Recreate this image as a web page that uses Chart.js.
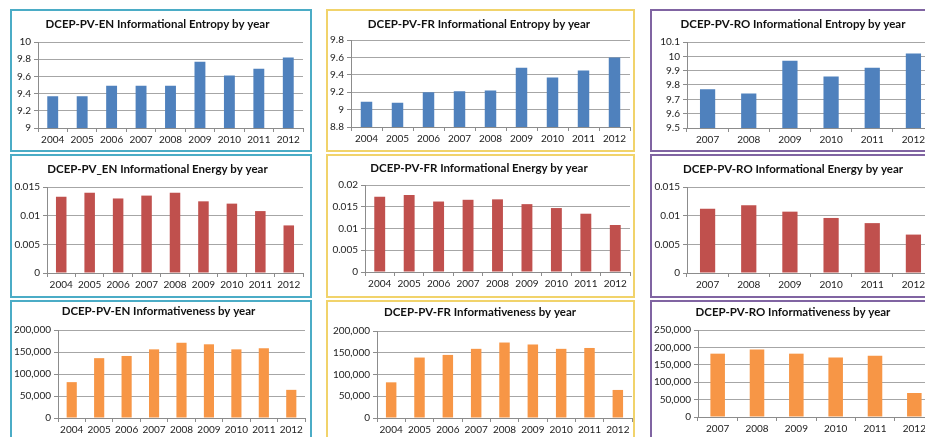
<!DOCTYPE html>
<html><head><meta charset="utf-8">
<script src="https://cdn.jsdelivr.net/npm/chart.js@4.4.1/dist/chart.umd.min.js"></script>
<style>
html,body{margin:0;padding:0;background:#fff;overflow:hidden;width:925px;height:437px;position:relative;}
.panel{position:absolute;box-sizing:border-box;border:2px solid;background:#fff;}
.panel canvas{position:absolute;left:0;top:0;}
</style></head><body>
<script>
// ---- data ----
const yearsEnFr = ['2004','2005','2006','2007','2008','2009','2010','2011','2012'];
const yearsRo = ['2007','2008','2009','2010','2011','2012'];

const entropyEn = [9.37, 9.37, 9.49, 9.49, 9.49, 9.77, 9.61, 9.69, 9.82];
const entropyFr = [9.09, 9.08, 9.20, 9.21, 9.22, 9.48, 9.37, 9.45, 9.60];
const entropyRo = [9.77, 9.74, 9.97, 9.86, 9.92, 10.02];

const energyEn = [0.0133, 0.0140, 0.0130, 0.0135, 0.0140, 0.0125, 0.0121, 0.0108, 0.0083];
const energyFr = [0.0173, 0.0177, 0.0162, 0.0166, 0.0167, 0.0156, 0.0147, 0.0134, 0.0108];
const energyRo = [0.0112, 0.0118, 0.0107, 0.0096, 0.0087, 0.0067];

const informEn = [81500, 136000, 141000, 156000, 171000, 167500, 156000, 158500, 64000];
const informFr = [82000, 139000, 145000, 159000, 173500, 169000, 159000, 161000, 64500];
const informRo = [182000, 194000, 182000, 171000, 176000, 69000];

const ticksEntropyEn = [9, 9.2, 9.4, 9.6, 9.8, 10];
const ticksEntropyFr = [8.8, 9, 9.2, 9.4, 9.6, 9.8];
const ticksEntropyRo = [9.5, 9.6, 9.7, 9.8, 9.9, 10, 10.1];
const ticksEnergyEnRo = [0, 0.005, 0.01, 0.015];
const ticksEnergyFr = [0, 0.005, 0.01, 0.015, 0.02];
const ticksInformEnFr = [0, 50000, 100000, 150000, 200000];
const ticksInformRo = [0, 50000, 100000, 150000, 200000, 250000];

// ---- style ----
const FONT = 'Lato, "Liberation Sans", sans-serif';
const BLUE = '#4F81BD', RED = '#C0504D', ORANGE = '#F79646';
const CYAN = '#4BACC6', GOLD = '#F1D36B', PURPLE = '#8064A2';
const AXIS = '#8c8c8c', GRID = '#a6a6a6', TXT = '#222';

const colX = [10, 326, 650], colW = [302, 309, 286];
const rowY = [9, 154, 300], rowH = [143, 144, 146];

function fmtPlain(v) { return String(Number(v.toFixed(6))); }
function fmtComma(v) { return Math.round(v).toLocaleString('en-US'); }

const specs = [
  {r:0,c:0,border:CYAN,title:'DCEP-PV-EN Informational Entropy by year',labels:yearsEnFr,data:entropyEn,ticks:ticksEntropyEn,color:BLUE,fmt:fmtPlain,area:{l:38,r:303,t:42,b:128,ty:24}},
  {r:0,c:1,border:GOLD,title:'DCEP-PV-FR Informational Entropy by year',labels:yearsEnFr,data:entropyFr,ticks:ticksEntropyFr,color:BLUE,fmt:fmtPlain,area:{l:351,r:630,t:40,b:127,ty:24}},
  {r:0,c:2,border:PURPLE,title:'DCEP-PV-RO Informational Entropy by year',labels:yearsRo,data:entropyRo,ticks:ticksEntropyRo,color:BLUE,fmt:fmtPlain,area:{l:687,r:934,t:42,b:128,ty:24}},
  {r:1,c:0,border:CYAN,title:'DCEP-PV_EN Informational Energy by year',labels:yearsEnFr,data:energyEn,ticks:ticksEnergyEnRo,color:RED,fmt:fmtPlain,area:{l:47,r:303,t:187,b:273,ty:169}},
  {r:1,c:1,border:GOLD,title:'DCEP-PV-FR Informational Energy by year',labels:yearsEnFr,data:energyFr,ticks:ticksEnergyFr,color:RED,fmt:fmtPlain,area:{l:365,r:630,t:185,b:272,ty:168}},
  {r:1,c:2,border:PURPLE,title:'DCEP-PV-RO Informational Energy by year',labels:yearsRo,data:energyRo,ticks:ticksEnergyEnRo,color:RED,fmt:fmtPlain,area:{l:687,r:934,t:187,b:273,ty:169}},
  {r:2,c:0,border:CYAN,title:'DCEP-PV-EN Informativeness by year',labels:yearsEnFr,data:informEn,ticks:ticksInformEnFr,color:ORANGE,fmt:fmtComma,area:{l:58,r:305,t:330,b:418,ty:311}},
  {r:2,c:1,border:GOLD,title:'DCEP-PV-FR Informativeness by year',labels:yearsEnFr,data:informFr,ticks:ticksInformEnFr,color:ORANGE,fmt:fmtComma,area:{l:377,r:632,t:331,b:418,ty:312}},
  {r:2,c:2,border:PURPLE,title:'DCEP-PV-RO Informativeness by year',labels:yearsRo,data:informRo,ticks:ticksInformRo,color:ORANGE,fmt:fmtComma,area:{l:698,r:934,t:330,b:417,ty:312}}
];

specs.forEach(function (spec) {
  const px = colX[spec.c], py = rowY[spec.r], pw = colW[spec.c], ph = rowH[spec.r];
  const div = document.createElement('div');
  div.className = 'panel';
  Object.assign(div.style, {left: px + 'px', top: py + 'px', width: pw + 'px', height: ph + 'px', borderColor: spec.border});
  document.body.appendChild(div);
  const cx = px + 2, cy = py + 2, cw = pw - 4, ch = ph - 4;
  const cv = document.createElement('canvas');
  cv.width = cw; cv.height = ch;
  cv.style.width = cw + 'px'; cv.style.height = ch + 'px';
  div.appendChild(cv);
  const a = spec.area;
  const LH = 15;
  const t1 = a.ty - cy - LH / 2;
  const t2 = a.t - (cy + t1 + LH);
  const yW = a.l - cx, rightPad = cx + cw - a.r, xH = cy + ch - a.b;
  new Chart(cv, {
    type: 'bar',
    data: {labels: spec.labels, datasets: [{data: spec.data, backgroundColor: spec.color, barPercentage: 0.37, categoryPercentage: 1}]},
    options: {
      responsive: false, animation: false, devicePixelRatio: 1,
      layout: {padding: {left: 0, top: 0, right: rightPad, bottom: 0}},
      plugins: {
        legend: {display: false}, tooltip: {enabled: false},
        title: {display: true, text: spec.title, color: '#111', font: {family: FONT, size: 11.5, weight: 'bold', lineHeight: LH + 'px'}, padding: {top: t1, bottom: t2}}
      },
      scales: {
        x: {
          grid: {display: true, drawOnChartArea: false, drawTicks: true, tickLength: 4, tickColor: AXIS, color: AXIS},
          border: {display: true, color: AXIS},
          ticks: {color: TXT, font: {family: FONT, size: 10}, padding: 2, maxRotation: 0, autoSkip: false},
          afterFit: function (s) { s.height = xH; }
        },
        y: {
          min: spec.ticks[0], max: spec.ticks[spec.ticks.length - 1],
          afterBuildTicks: function (ax) { ax.ticks = spec.ticks.map(function (v) { return {value: v}; }); },
          grid: {color: GRID, drawTicks: true, tickLength: 4, tickColor: AXIS},
          border: {display: true, color: AXIS},
          ticks: {color: TXT, font: {family: FONT, size: 10}, padding: 3, autoSkip: false, callback: function (v) { return spec.fmt(v); }},
          afterFit: function (s) { s.width = yW; }
        }
      }
    }
  });
});
</script>
</body></html>
